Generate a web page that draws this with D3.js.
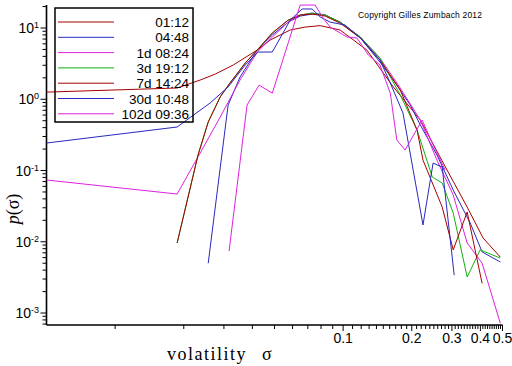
<!DOCTYPE html>
<html>
<head>
<meta charset="utf-8">
<title>volatility distribution</title>
<style>
body { margin: 0; background: #fff; }
svg { display: block; }
</style>
</head>
<body>
<div id="chart"></div>
<script src="https://cdn.jsdelivr.net/npm/d3@7/dist/d3.min.js"></script>
<script>
// series (sigma, p(sigma))
var names = ["01:12", "04:48", "1d 08:24", "3d 19:12", "7d 14:24", "30d 10:48", "102d 09:36"];
var colors = ["#a80000", "#2828c0", "#e020e0", "#10b010", "#a80000", "#2828c0", "#e020e0"];

var s0112 = [0.005, 0.0187, 0.0236, 0.0275, 0.0330, 0.0420, 0.0479, 0.0586, 0.0681, 0.0793, 0.0970, 0.127, 0.166, 0.218, 0.275, 0.350, 0.411, 0.489];
var p0112 = [1.26, 1.44, 1.86, 2.26, 3.03, 4.91, 6.79, 9.38, 10.3, 10.8, 9.38, 4.91, 1.49, 0.511, 0.127, 0.0307, 0.0113, 0.0061];

var s0448 = [0.0256, 0.0313, 0.0353, 0.0420, 0.0489, 0.0574, 0.0648, 0.0731, 0.0834, 0.0970, 0.119, 0.145, 0.166, 0.197, 0.218, 0.258, 0.304, 0.361, 0.407, 0.489];
var p0448 = [0.0050, 0.830, 2.05, 4.91, 7.98, 12.1, 14.7, 15.7, 15.2, 12.1, 7.24, 3.33, 1.86, 0.830, 0.435, 0.165, 0.0532, 0.0183, 0.0072, 0.0052];

var s1d = [0.005, 0.0187, 0.0236, 0.0289, 0.0353, 0.0420, 0.0489, 0.0574, 0.0648, 0.0731, 0.0834, 0.0970, 0.119, 0.145, 0.178, 0.218, 0.258, 0.304, 0.350, 0.407, 0.489];
var p1d = [0.0736, 0.0468, 0.176, 0.564, 1.86, 4.60, 7.48, 12.1, 15.2, 16.2, 15.2, 12.1, 7.48, 3.79, 1.44, 0.511, 0.140, 0.0453, 0.0096, 0.0050, 0.00072];

var s3d = [0.0187, 0.0231, 0.0256, 0.0289, 0.0319, 0.0372, 0.0420, 0.0489, 0.0574, 0.0648, 0.0731, 0.0834, 0.0970, 0.119, 0.145, 0.178, 0.211, 0.246, 0.272, 0.304, 0.350, 0.399, 0.489];
var p3d = [0.0096, 0.165, 0.479, 1.08, 1.69, 3.23, 4.91, 8.51, 12.9, 15.2, 16.2, 15.2, 12.1, 7.48, 3.79, 1.15, 0.370, 0.0811, 0.0668, 0.0253, 0.0032, 0.0077, 0.0059];

var s7d = [0.0187, 0.0231, 0.0256, 0.0289, 0.0319, 0.0372, 0.0420, 0.0489, 0.0574, 0.0648, 0.0731, 0.0834, 0.0970, 0.119, 0.145, 0.178, 0.211, 0.224, 0.272, 0.304, 0.350, 0.407];
var p7d = [0.0096, 0.165, 0.479, 1.08, 1.69, 3.23, 4.91, 8.51, 12.9, 15.2, 15.7, 14.7, 11.7, 7.24, 3.56, 1.35, 0.370, 0.140, 0.0307, 0.0077, 0.0262, 0.0026];

var s30d = [0.005, 0.0187, 0.0261, 0.0313, 0.0372, 0.0424, 0.0489, 0.0586, 0.0661, 0.0731, 0.0793, 0.0877, 0.102, 0.119, 0.145, 0.161, 0.183, 0.224, 0.248, 0.272, 0.307];
var p30d = [0.243, 0.408, 0.886, 1.49, 3.03, 4.60, 4.60, 12.9, 18.5, 18.5, 14.3, 12.1, 11.0, 7.24, 3.56, 1.69, 0.641, 0.0172, 0.127, 0.112, 0.0034];

var s102d = [0.0316, 0.0379, 0.0428, 0.0489, 0.0648, 0.0754, 0.0817, 0.0877, 0.104, 0.115, 0.129, 0.145, 0.161, 0.172, 0.187, 0.222, 0.246, 0.280];
var p102d = [0.0074, 0.830, 1.58, 1.22, 21.0, 21.0, 13.8, 10.3, 7.48, 7.24, 4.18, 3.03, 1.22, 0.268, 0.194, 0.511, 0.243, 0.102];

var xLabels = [0.1, 0.2, 0.3, 0.4, 0.5];
var yExps = [1, 0, -1, -2, -3];

var sigmas = [s0112, s0448, s1d, s3d, s7d, s30d, s102d];
var probs = [p0112, p0448, p1d, p3d, p7d, p30d, p102d];

var W = 512, H = 366;
var svg = d3.select("#chart").append("svg").attr("width", W).attr("height", H);

var x = d3.scaleLog().domain([0.005, 0.5]).range([46.5, 502.5]);
var y = d3.scaleLog().domain([Math.pow(10, -3.168), Math.pow(10, 1.323)]).range([325, 5]);

// x ticks: 0.01 .. 0.5 in steps of 0.01
var xt = d3.range(1, 51).map(function (i) { return i / 100; });
svg.selectAll(".xt").data(xt).enter().append("line")
  .attr("x1", function (d) { return x(d); })
  .attr("x2", function (d) { return x(d); })
  .attr("y1", 325)
  .attr("y2", function (d) { return (Math.round(d * 100) % 10 === 0) ? 331 : 329; })
  .attr("stroke", "#000").attr("stroke-width", 1);

svg.selectAll(".xl").data(xLabels).enter().append("text")
  .attr("x", function (d) { return x(d); })
  .attr("y", 343)
  .attr("text-anchor", "middle")
  .style("font-family", "Liberation Sans, Arial, sans-serif")
  .style("font-size", "14px")
  .text(function (d) { return d; });

// y ticks
var yt = [];
for (var e = -4; e <= 1; e++) {
  for (var m = 1; m < 10; m++) {
    var v = m * Math.pow(10, e);
    if (v >= y.domain()[0] && v <= y.domain()[1]) yt.push({ v: v, major: m === 1 });
  }
}
svg.selectAll(".yt").data(yt).enter().append("line")
  .attr("x1", function (d) { return d.major ? 40.5 : 42.5; })
  .attr("x2", 46.5)
  .attr("y1", function (d) { return y(d.v); })
  .attr("y2", function (d) { return y(d.v); })
  .attr("stroke", "#000").attr("stroke-width", 1);

var yl = svg.selectAll(".yl").data(yExps).enter().append("text")
  .attr("x", 39)
  .attr("y", function (d) { return y(Math.pow(10, d)) + 5; })
  .attr("text-anchor", "end")
  .style("font-family", "Liberation Sans, Arial, sans-serif")
  .style("font-size", "14px");
yl.append("tspan").text("10");
yl.append("tspan").attr("dy", -5).style("font-size", "9px").text(function (d) { return d; });

// axis lines
svg.append("line").attr("x1", 46.5).attr("x2", 46.5).attr("y1", 5).attr("y2", 325)
  .attr("stroke", "#000").attr("stroke-width", 1.6);
svg.append("line").attr("x1", 46.5).attr("x2", 502.5).attr("y1", 325).attr("y2", 325)
  .attr("stroke", "#000").attr("stroke-width", 1.6);

// curves
var line = d3.line()
  .x(function (d) { return x(d[0]); })
  .y(function (d) { return y(d[1]); });

sigmas.forEach(function (s, k) {
  var pts = s.map(function (v, i) { return [v, probs[k][i]]; });
  svg.append("path")
    .attr("d", line(pts))
    .attr("fill", "none")
    .attr("stroke", colors[k])
    .attr("stroke-width", 1);
});

// legend
svg.append("rect").attr("x", 55).attr("y", 8).attr("width", 138).attr("height", 114)
  .attr("fill", "none").attr("stroke", "#000").attr("stroke-width", 1.5);
names.forEach(function (n, i) {
  var ly = 22 + i * 15.3;
  svg.append("line").attr("x1", 58).attr("x2", 114).attr("y1", ly).attr("y2", ly)
    .attr("stroke", colors[i]).attr("stroke-width", 1);
  svg.append("text").attr("x", 189).attr("y", ly + 5)
    .attr("text-anchor", "end")
    .style("font-family", "Liberation Sans, Arial, sans-serif")
    .style("font-size", "13.5px")
    .text(n);
});

// copyright
svg.append("text").attr("x", 358).attr("y", 18)
  .attr("textLength", 124)
  .style("font-family", "Liberation Sans, Arial, sans-serif")
  .style("font-size", "8.5px")
  .text("Copyright Gilles Zumbach 2012");

// axis titles
var xt2 = svg.append("text").attr("x", 167).attr("y", 360)
  .style("font-family", "Liberation Serif, Times New Roman, serif")
  .style("font-size", "18px");
xt2.append("tspan").style("letter-spacing", "1.5px").text("volatility");
xt2.append("tspan").attr("x", 262).text("σ");

svg.append("text")
  .attr("transform", "translate(19,209) rotate(-90)")
  .attr("text-anchor", "middle")
  .style("font-family", "Liberation Serif, Times New Roman, serif")
  .style("font-size", "18px")
  .html("<tspan font-style='italic'>p</tspan>(σ)");
</script>
</body>
</html>
